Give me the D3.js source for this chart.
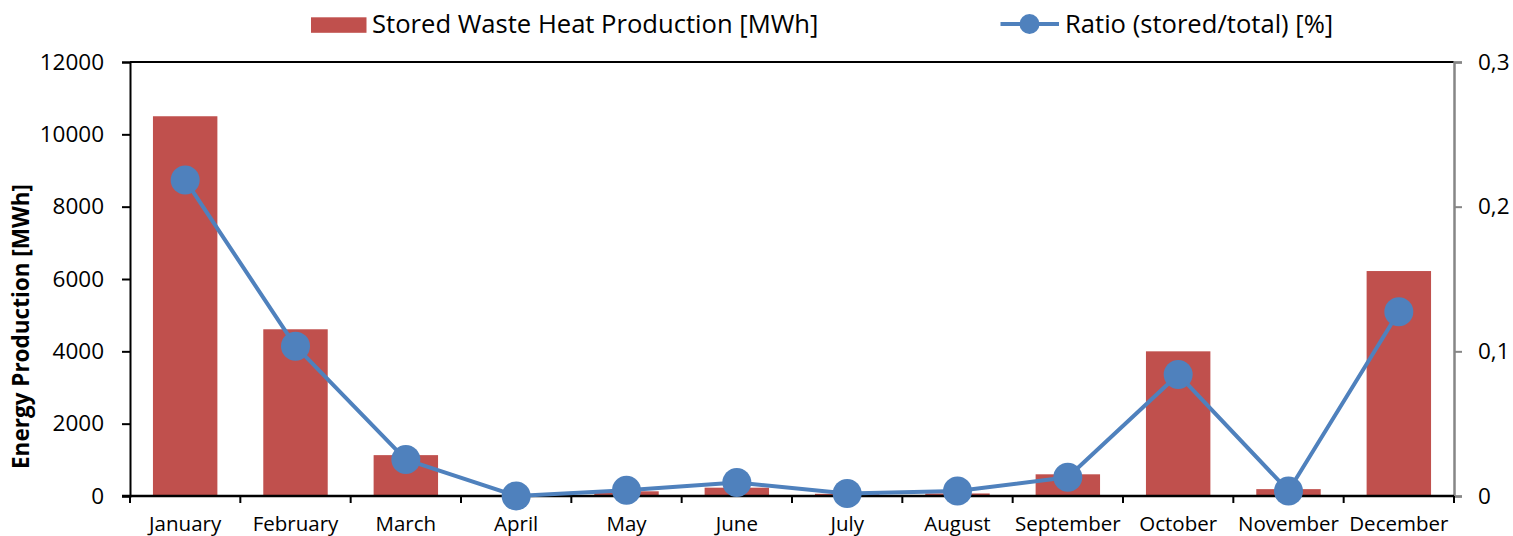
<!DOCTYPE html>
<html>
<head>
<meta charset="utf-8">
<script src="https://cdn.jsdelivr.net/npm/d3@7"></script>
<style>
  html, body { margin: 0; padding: 0; background: #fff; }
  svg { display: block; font-family: "Open Sans", sans-serif; }
</style>
</head>
<body>
<svg id="chart" width="1513" height="536"></svg>
<script>
const months = ["January","February","March","April","May","June","July","August","September","October","November","December"];
const storedHeat = [10500, 4610, 1130, 0, 130, 230, 60, 70, 600, 4000, 190, 6220];
const ratio = [0.2185, 0.1036, 0.0252, 0.0000, 0.0039, 0.0093, 0.0017, 0.0035, 0.0130, 0.0840, 0.0035, 0.1274];
const leftTicks = [0, 2000, 4000, 6000, 8000, 10000, 12000];
const rightTicks = [0, 0.1, 0.2, 0.3];
const seriesNames = ["Stored Waste Heat Production [MWh]", "Ratio (stored/total) [%]"];
const yTitle = "Energy Production [MWh]";

const barColor = "#C0504D";
const lineColor = "#4F81BD";

const svg = d3.select("#chart");
const L = 130, R = 1454, T = 62, B = 496;

const x = d3.scaleBand().domain(months).range([L, R]).paddingInner(0.416).paddingOuter(0.208);
const yL = d3.scaleLinear().domain([0, 12000]).range([B, T]);
const yR = d3.scaleLinear().domain([0, 0.3]).range([B, T]);

// bars
svg.append("g").selectAll("rect").data(months).join("rect")
  .attr("x", d => x(d))
  .attr("width", x.bandwidth())
  .attr("y", (d, i) => yL(storedHeat[i]))
  .attr("height", (d, i) => B - yL(storedHeat[i]))
  .attr("fill", barColor);

// top border
svg.append("line").attr("x1", L).attr("x2", R).attr("y1", T).attr("y2", T)
  .attr("stroke", "#000").attr("stroke-width", 2);

// left axis
const gL = svg.append("g").attr("transform", `translate(${L},0)`)
  .call(d3.axisLeft(yL).tickValues(leftTicks).tickSize(8).tickPadding(18).tickFormat(d3.format("d")));
gL.select(".domain").attr("stroke", "#000").attr("stroke-width", 2);
gL.selectAll(".tick line").attr("stroke", "#000").attr("stroke-width", 2);
gL.selectAll(".tick text").attr("font-size", 22.5).attr("fill", "#000").attr("font-family", "Open Sans");

// right axis
const gR = svg.append("g").attr("transform", `translate(${R},0)`)
  .call(d3.axisRight(yR).tickValues(rightTicks).tickSize(8).tickPadding(16)
    .tickFormat(d => d === 0 ? "0" : d3.format(".1f")(d).replace(".", ",")));
gR.select(".domain").attr("stroke", "#868686").attr("stroke-width", 2.5);
gR.selectAll(".tick line").attr("stroke", "#868686").attr("stroke-width", 2);
gR.selectAll(".tick text").attr("font-size", 22.5).attr("fill", "#000").attr("font-family", "Open Sans");

// bottom axis
const xTickScale = d3.scaleLinear().domain([0, months.length]).range([L, R]);
const gB = svg.append("g").attr("transform", `translate(0,${B})`);
gB.append("line").attr("x1", L - 8).attr("x2", R).attr("stroke", "#000").attr("stroke-width", 2.5);
gB.selectAll("line.tk").data(d3.range(months.length + 1)).join("line").attr("class", "tk")
  .attr("x1", d => xTickScale(d)).attr("x2", d => xTickScale(d))
  .attr("y1", 0).attr("y2", 7).attr("stroke", "#000").attr("stroke-width", 2);
gB.selectAll("text").data(months).join("text")
  .attr("x", d => x(d) + x.bandwidth() / 2)
  .attr("y", 34.5)
  .attr("text-anchor", "middle")
  .attr("font-size", 20.5)
  .attr("fill", "#000")
  .text(d => d);

// line
const line = d3.line().x((d, i) => x(months[i]) + x.bandwidth() / 2).y(d => yR(d));
svg.append("path").datum(ratio).attr("d", line)
  .attr("fill", "none").attr("stroke", lineColor).attr("stroke-width", 4).attr("stroke-linejoin", "round");
svg.append("g").selectAll("circle").data(ratio).join("circle")
  .attr("cx", (d, i) => x(months[i]) + x.bandwidth() / 2)
  .attr("cy", d => yR(d))
  .attr("r", 14.5)
  .attr("fill", lineColor);

// y title
svg.append("text")
  .attr("transform", `translate(28.5,326.5) rotate(-90)`)
  .attr("text-anchor", "middle")
  .attr("font-size", 22.5)
  .attr("font-weight", "bold")
  .attr("fill", "#000")
  .text(yTitle);

// legend
const lg = svg.append("g");
lg.append("rect").attr("x", 311).attr("y", 17.3).attr("width", 55.5).attr("height", 15.5).attr("fill", barColor);
lg.append("text").attr("x", 372).attr("y", 32.7).attr("font-size", 25.6).attr("fill", "#000").text(seriesNames[0]);
lg.append("line").attr("x1", 1000.5).attr("x2", 1059).attr("y1", 24).attr("y2", 24)
  .attr("stroke", lineColor).attr("stroke-width", 4);
lg.append("circle").attr("cx", 1029.5).attr("cy", 24).attr("r", 10).attr("fill", lineColor);
lg.append("text").attr("x", 1065).attr("y", 32.7).attr("font-size", 25.6).attr("fill", "#000").text(seriesNames[1]);
</script>
</body>
</html>
